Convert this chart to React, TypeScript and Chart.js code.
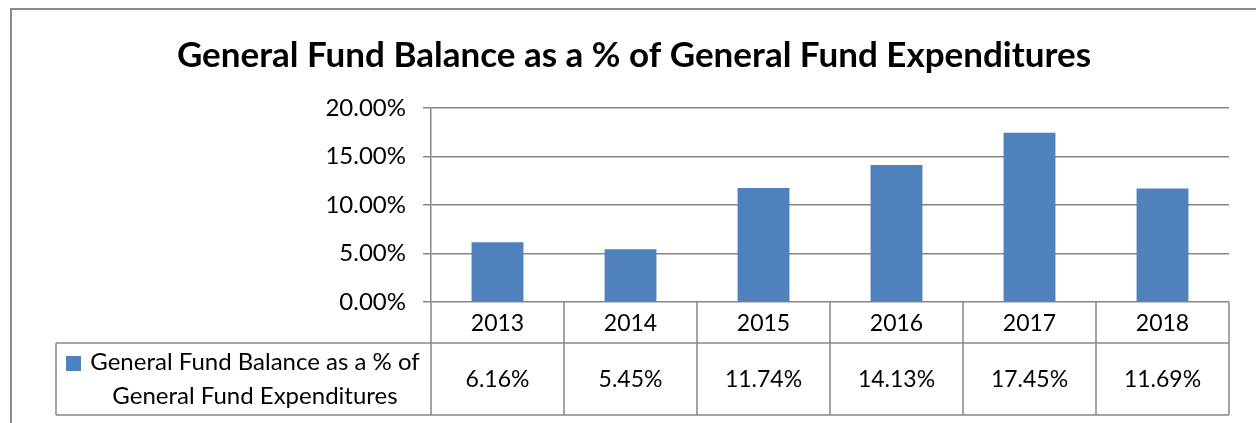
import React, { useEffect, useRef } from "react";
import { Chart, registerables } from "chart.js";

Chart.register(...registerables);

const TITLE = "General Fund Balance as a % of General Fund Expenditures";
const SERIES_NAME = "General Fund Balance as a % of General Fund Expenditures";
const LEGEND_LINES = ["General Fund Balance as a % of", "General Fund Expenditures"];
const years = ["2013", "2014", "2015", "2016", "2017", "2018"];
const values = [6.16, 5.45, 11.74, 14.13, 17.45, 11.69];
const yMin = 0;
const yMax = 20;
const yStep = 5;

const FONT = "Lato, 'Liberation Sans', sans-serif";
const GRID = "#868686";
const BAR = "#4F81BD";

const fmt = (v: number) => v.toFixed(2) + "%";

const tablePlugin = {
  id: "tablePlugin",
  afterDraw(chart: any) {
    const ctx = chart.ctx as CanvasRenderingContext2D;
    const area = chart.chartArea;
    const x = chart.scales.x;
    const left = area.left;
    const right = area.right;
    const bottom = area.bottom;
    const row1 = bottom + 41;
    const row2 = bottom + 113;
    const legendLeft = 56;
    const n = years.length;
    const step = (right - left) / n;

    ctx.save();
    // outer frame
    ctx.strokeStyle = "#8a8a8a";
    ctx.lineWidth = 2;
    ctx.beginPath();
    ctx.moveTo(11, 430);
    ctx.lineTo(11, 9);
    ctx.lineTo(1270, 9);
    ctx.stroke();

    // title
    ctx.fillStyle = "#000";
    ctx.font = `bold 35px ${FONT}`;
    ctx.textAlign = "center";
    ctx.textBaseline = "middle";
    ctx.fillText(TITLE, 634, 56);

    // table lines
    ctx.strokeStyle = GRID;
    ctx.lineWidth = 1.5;
    ctx.beginPath();
    ctx.moveTo(left, bottom);
    ctx.lineTo(left, row2);
    for (let i = 0; i <= n; i++) {
      const xx = left + i * step;
      ctx.moveTo(xx, bottom);
      ctx.lineTo(xx, row2);
    }
    ctx.moveTo(legendLeft, row1);
    ctx.lineTo(right, row1);
    ctx.moveTo(legendLeft, row2);
    ctx.lineTo(right, row2);
    ctx.moveTo(legendLeft, row1);
    ctx.lineTo(legendLeft, row2);
    ctx.stroke();

    // text
    ctx.fillStyle = "#000";
    ctx.font = `23px ${FONT}`;
    ctx.textAlign = "center";
    ctx.textBaseline = "middle";
    years.forEach((yr, i) => {
      const cx = x.getPixelForValue(i);
      ctx.fillText(yr, cx, bottom + 22);
      ctx.fillText(fmt(values[i]), cx, (row1 + row2) / 2 + 1);
    });

    // legend cell
    ctx.fillStyle = BAR;
    ctx.fillRect(66, row1 + 13, 15, 15);
    ctx.fillStyle = "#000";
    ctx.font = `24px ${FONT}`;
    ctx.fillText(LEGEND_LINES[0], 255, row1 + 19);
    ctx.fillText(LEGEND_LINES[1], 255, row1 + 53);
    ctx.restore();
  },
};

export default function App() {
  const ref = useRef<HTMLCanvasElement>(null);
  useEffect(() => {
    if (!ref.current) return;
    const chart = new Chart(ref.current, {
      type: "bar",
      data: {
        labels: years,
        datasets: [
          {
            label: SERIES_NAME,
            data: values,
            backgroundColor: BAR,
            borderWidth: 0,
            categoryPercentage: 1,
            barPercentage: 0.39,
          },
        ],
      },
      options: {
        animation: false,
        responsive: false,
        maintainAspectRatio: false,
        layout: { padding: { top: 108, left: 0, right: 27, bottom: 121 } },
        plugins: {
          legend: { display: false },
          title: { display: false },
          tooltip: { enabled: false },
        },
        scales: {
          x: {
            display: false,
            grid: { display: false },
          },
          y: {
            min: yMin,
            max: yMax,
            afterFit: (s: any) => {
              s.width = 431;
            },
            ticks: {
              stepSize: yStep,
              padding: 17,
              color: "#000",
              font: { family: FONT, size: 24 },
              callback: (v: any) => fmt(Number(v)),
            },
            grid: {
              color: GRID,
              lineWidth: 1.5,
              drawTicks: true,
              tickLength: 8,
            },
            border: { display: true, color: GRID, width: 1.5 },
          },
        },
      },
      plugins: [tablePlugin],
    });
    return () => chart.destroy();
  }, []);
  return (
    <div style={{ position: "fixed", left: 0, top: 0, width: 1256, height: 423, background: "#fff" }}>
      <canvas ref={ref} width={1256} height={423} style={{ width: 1256, height: 423 }} />
    </div>
  );
}
